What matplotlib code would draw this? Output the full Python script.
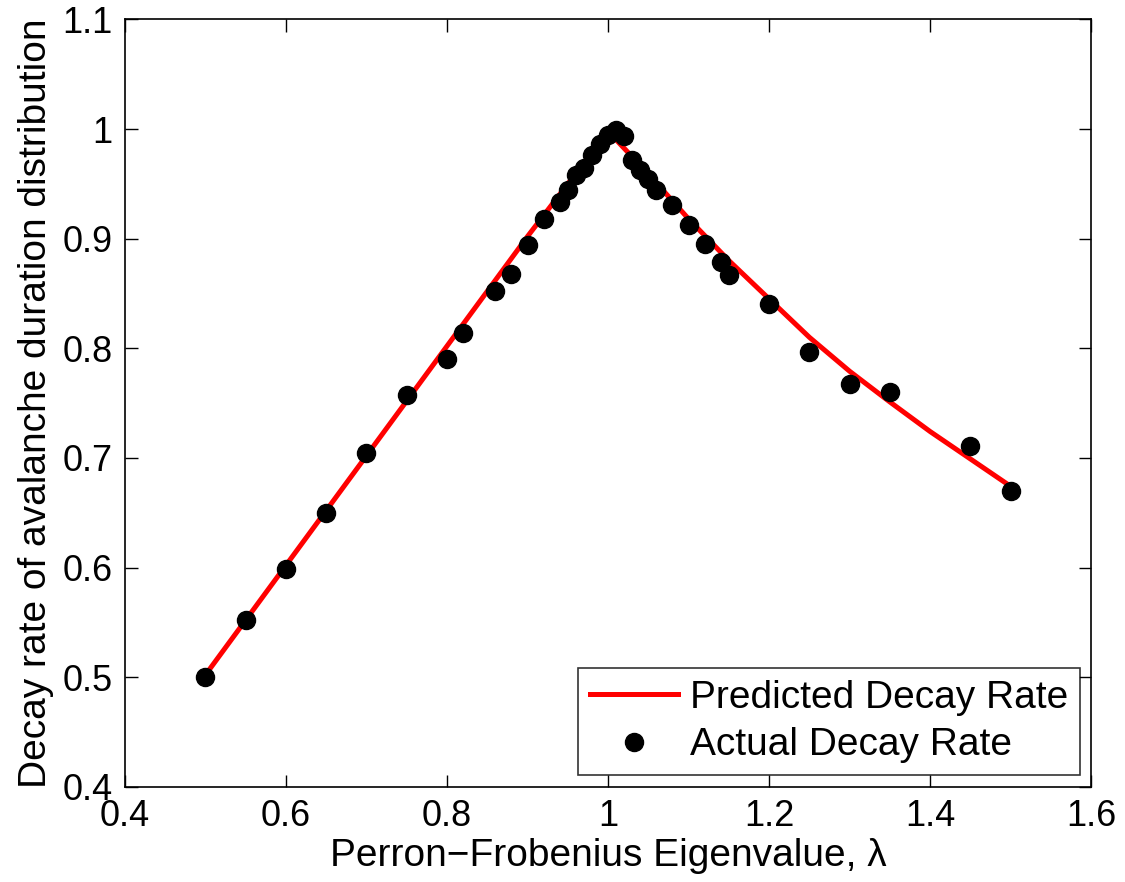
import matplotlib
matplotlib.use("Agg")
import matplotlib.pyplot as plt

# Predicted decay rate (red curve)
pred_lambda = [0.50, 0.60, 0.70, 0.80, 0.90, 1.00, 1.05, 1.10, 1.15, 1.20,
               1.25, 1.30, 1.35, 1.40, 1.45, 1.50]
pred_rate = [0.502, 0.602, 0.702, 0.802, 0.902, 0.998, 0.959, 0.918, 0.880,
             0.845, 0.810, 0.779, 0.751, 0.724, 0.699, 0.674]

# Actual decay rate (black dots)
act_lambda = [0.50, 0.55, 0.60, 0.65, 0.70, 0.75, 0.80, 0.82, 0.86, 0.88,
              0.90, 0.92, 0.94, 0.95, 0.96, 0.97, 0.98, 0.99, 1.00, 1.01,
              1.02, 1.03, 1.04, 1.05, 1.06, 1.08, 1.10, 1.12, 1.14, 1.15,
              1.20, 1.25, 1.30, 1.35, 1.45, 1.50]
act_rate = [0.500, 0.552, 0.599, 0.650, 0.704, 0.757, 0.790, 0.814, 0.852, 0.868,
            0.894, 0.918, 0.933, 0.944, 0.958, 0.964, 0.976, 0.986, 0.995, 0.999,
            0.994, 0.972, 0.963, 0.954, 0.944, 0.931, 0.912, 0.895, 0.879, 0.867,
            0.840, 0.797, 0.767, 0.760, 0.711, 0.670]

xticks = [0.4, 0.6, 0.8, 1.0, 1.2, 1.4, 1.6]
xtick_labels = ["0.4", "0.6", "0.8", "1", "1.2", "1.4", "1.6"]
yticks = [0.4, 0.5, 0.6, 0.7, 0.8, 0.9, 1.0, 1.1]
ytick_labels = ["0.4", "0.5", "0.6", "0.7", "0.8", "0.9", "1", "1.1"]

plt.rcParams['font.family'] = ['Liberation Sans', 'DejaVu Sans']

fig = plt.figure(figsize=(11.25, 8.82), dpi=100)
ax = fig.add_axes([0.111, 0.108, 0.859, 0.870])

ax.plot(pred_lambda, pred_rate, color='#ff0000', lw=3.6, label='Predicted Decay Rate', zorder=2)
ax.plot(act_lambda, act_rate, 'o', color='black', markersize=13, label='Actual Decay Rate', zorder=3)

ax.set_xlim(0.4, 1.6)
ax.set_ylim(0.4, 1.1)
ax.set_xticks(xticks)
ax.set_xticklabels(xtick_labels)
ax.set_yticks(yticks)
ax.set_yticklabels(ytick_labels)
ax.tick_params(direction='in', length=9, width=1, labelsize=26, top=True, right=True, pad=9)
for s in ax.spines.values():
    s.set_linewidth(1.2)

ax.set_xlabel('Perron\u2212Frobenius Eigenvalue, \u03bb', fontsize=28, labelpad=3)
ax.set_ylabel('Decay rate of avalanche duration distribution', fontsize=28, labelpad=6)

leg = ax.legend(loc='lower right', fontsize=28, frameon=True, fancybox=False,
                edgecolor='black', handlelength=2.26, borderaxespad=0.3,
                borderpad=0.3, labelspacing=0.3, handletextpad=0.3)
leg.get_frame().set_linewidth(1.2)

fig.savefig('out.png', dpi=100)
